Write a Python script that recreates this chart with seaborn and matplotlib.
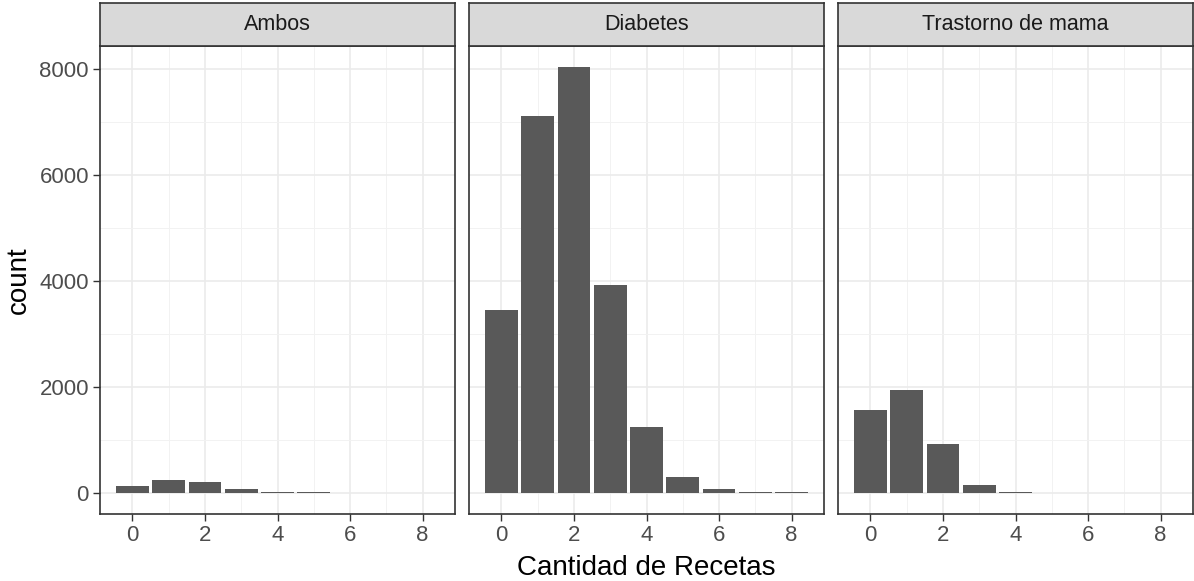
import matplotlib
matplotlib.use("Agg")
import matplotlib.pyplot as plt
import numpy as np
import pandas as pd
import seaborn as sns

# Number of prescriptions per patient, by condition group
recetas = [0, 1, 2, 3, 4, 5, 6, 7, 8]
ambos = [132, 246, 197, 64, 15, 10, 0, 0, 0]
diabetes = [3460, 7110, 8040, 3930, 1242, 297, 62, 15, 12]
trastorno = [1563, 1934, 920, 138, 12, 0, 0, 0, 0]

grupos = ["Ambos", "Diabetes", "Trastorno de mama"]
conteos = [ambos, diabetes, trastorno]

df = pd.concat(
    [pd.DataFrame({"grupo": g, "recetas": recetas, "count": c})
     for g, c in zip(grupos, conteos)],
    ignore_index=True,
)
df = df[df["count"] > 0]

sns.set_theme(style="white")
plt.rcParams["font.family"] = ["Liberation Sans", "DejaVu Sans"]

W, H = 1194, 581
fig = plt.figure(figsize=(W / 100, H / 100), dpi=100)

panel_left = [100, 469, 838]
panel_w = 355
top_px, bottom_px, strip_top = 46, 514, 3

ymax = df["count"].max()
ylo, yhi = -0.05 * ymax, 1.05 * ymax
xlo, xhi = -0.45 - 0.445, 8.45 + 0.445

border = "#333333"
grid_major = "#EBEBEB"
grid_minor = "#F2F2F2"
tick_fs = 16
strip_fs = 15.5
title_fs = 20

for i, (g, lx) in enumerate(zip(grupos, panel_left)):
    ax = fig.add_axes([lx / W, 1 - bottom_px / H, panel_w / W, (bottom_px - top_px) / H])
    sub = df[df["grupo"] == g]
    sns.barplot(data=sub, x="recetas", y="count", native_scale=True, width=0.9,
                color="#595959", saturation=1, ax=ax, zorder=3, edgecolor="none")
    ax.set_xlim(xlo, xhi)
    ax.set_ylim(ylo, yhi)
    ax.set_xticks([0, 2, 4, 6, 8])
    ax.set_xticks([1, 3, 5, 7], minor=True)
    ax.set_yticks([0, 2000, 4000, 6000, 8000])
    ax.set_yticks([1000, 3000, 5000, 7000], minor=True)
    ax.grid(True, which="major", color=grid_major, linewidth=1.2, zorder=0)
    ax.grid(True, which="minor", color=grid_minor, linewidth=0.7, zorder=0)
    ax.set_axisbelow(True)
    for s in ax.spines.values():
        s.set_color(border)
        s.set_linewidth(1.2)
        s.set_visible(True)
    ax.tick_params(axis="x", which="major", bottom=True, length=5, width=1,
                   color=border, labelsize=tick_fs, labelcolor="#4D4D4D", pad=3)
    ax.tick_params(axis="both", which="minor", length=0)
    if i == 0:
        ax.tick_params(axis="y", which="major", left=True, length=5, width=1,
                       color=border, labelsize=tick_fs, labelcolor="#4D4D4D", pad=3)
    else:
        ax.tick_params(axis="y", which="major", left=False, labelleft=False)
    ax.set_xlabel("")
    ax.set_ylabel("")

    # facet strip
    sx = fig.add_axes([lx / W, 1 - top_px / H, panel_w / W, (top_px - strip_top) / H])
    sx.set_facecolor("#D9D9D9")
    sx.set_xticks([])
    sx.set_yticks([])
    for s in sx.spines.values():
        s.set_color(border)
        s.set_linewidth(1.2)
    sx.text(0.5, 0.5, g, ha="center", va="center", fontsize=strip_fs,
            color="#1A1A1A", transform=sx.transAxes)

fig.text(646 / W, 1 - 568 / H, "Cantidad de Recetas", ha="center", va="center",
         fontsize=title_fs, color="black")
fig.text(19 / W, 1 - 280 / H, "count", ha="center", va="center", rotation=90,
         fontsize=title_fs, color="black")

fig.savefig("out.png", dpi=100, facecolor="white")
